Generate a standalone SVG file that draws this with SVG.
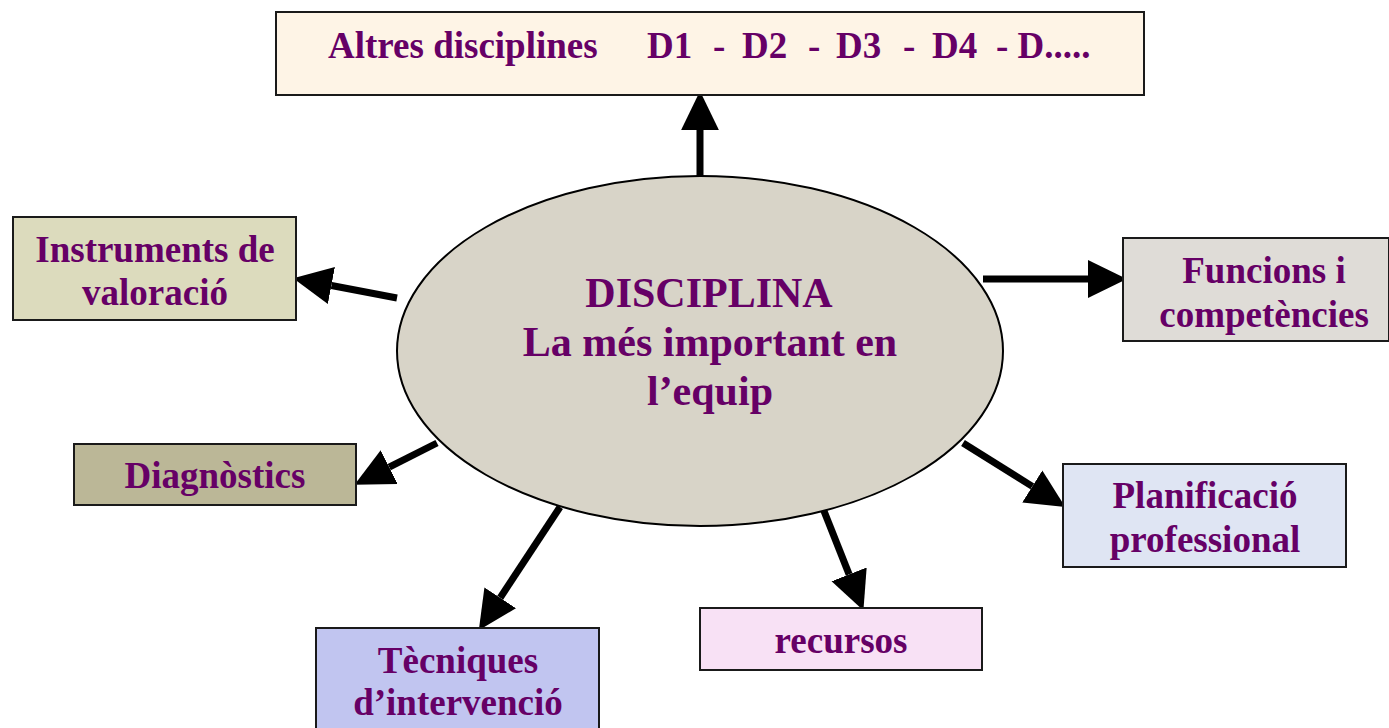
<svg xmlns="http://www.w3.org/2000/svg" width="1389" height="728" viewBox="0 0 1389 728">
<style>
.box{stroke:#1a1a1a;stroke-width:2}
.t{font-family:"Liberation Serif","Times New Roman",serif;font-weight:bold;fill:#660066;text-anchor:middle}
.s36{font-size:37px}
.s42{font-size:42px}
.c{stroke:#000;stroke-width:7;fill:none;marker-end:url(#ah)}
</style>
<defs>
<marker id="ah" markerUnits="userSpaceOnUse" markerWidth="40" markerHeight="40" viewBox="0 -18 36 36" refX="0" refY="0" orient="auto">
<path d="M0,-17 L35,0 L0,17 Z" fill="#000"/>
</marker>
</defs>
<rect width="1389" height="728" fill="#fff"/>
<g id="connectors">
<line class="c" x1="700" y1="176" x2="700" y2="130"/>
<line class="c" x1="397" y1="298" x2="331.4" y2="285.5"/>
<line class="c" x1="437" y1="443" x2="389.2" y2="467.2"/>
<line class="c" x1="983" y1="279" x2="1088" y2="279"/>
<line class="c" x1="963" y1="443" x2="1032.3" y2="486.4"/>
<line class="c" x1="560" y1="507" x2="500.2" y2="597.8"/>
<line class="c" x1="822" y1="506" x2="849.1" y2="574.4"/>
</g>
<g id="center">
<ellipse cx="700" cy="351" rx="303" ry="175" fill="#D8D4C8" stroke="#000" stroke-width="2"/>
<text class="t s42" x="709" y="307">DISCIPLINA</text>
<text class="t s42" x="710" y="356">La més important en</text>
<text class="t s42" x="710" y="405">l’equip</text>
</g>
<g id="altres">
<rect class="box" x="276" y="12" width="868" height="83" fill="#FEF4E6"/>
<text class="t s36" y="58" style="text-anchor:start"><tspan x="328">Altres disciplines</tspan><tspan x="647">D1</tspan><tspan x="713">-</tspan><tspan x="742">D2</tspan><tspan x="808">-</tspan><tspan x="836">D3</tspan><tspan x="903">-</tspan><tspan x="932">D4</tspan><tspan x="996" xml:space="preserve">- D.....</tspan></text>
</g>
<g id="instruments">
<rect class="box" x="13" y="217" width="283" height="103" fill="#DCDBBD"/>
<text class="t s36" x="155" y="262">Instruments de</text>
<text class="t s36" x="155" y="305">valoració</text>
</g>
<g id="diagnostics">
<rect class="box" x="74" y="444" width="282" height="61" fill="#BBB797"/>
<text class="t s36" x="215" y="488">Diagnòstics</text>
</g>
<g id="funcions">
<rect class="box" x="1123" y="238" width="266" height="103" fill="#DFDCD7"/>
<text class="t s36" x="1264" y="283">Funcions i</text>
<text class="t s36" x="1264" y="327">competències</text>
</g>
<g id="planificacio">
<rect class="box" x="1063" y="464" width="283" height="103" fill="#DFE5F3"/>
<text class="t s36" x="1205" y="508">Planificació</text>
<text class="t s36" x="1205" y="552">professional</text>
</g>
<g id="tecniques">
<rect class="box" x="316" y="628" width="283" height="110" fill="#C1C5F0"/>
<text class="t s36" x="458" y="673">Tècniques</text>
<text class="t s36" x="458" y="715">d’intervenció</text>
</g>
<g id="recursos">
<rect class="box" x="700" y="608" width="282" height="62" fill="#F8E1F5"/>
<text class="t s36" x="841" y="653">recursos</text>
</g>
</svg>
